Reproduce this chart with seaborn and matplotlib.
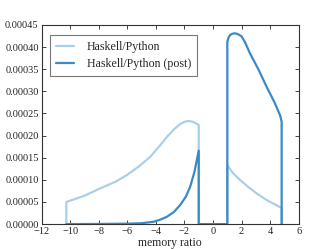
import pandas as pd
import matplotlib
matplotlib.use("Agg")
import matplotlib.pyplot as plt
import seaborn as sns
from matplotlib.ticker import FormatStrFormatter, MultipleLocator

# Haskell/Python ratio density
hp_x = [-10.26, -10.26, -9.0, -7.88, -6.8, -6.02, -5.2, -4.39, -3.7, -3.23, -2.7, -2.30,
        -2.0, -1.72, -1.4, -1.0, -1.0, 1.0, 1.0, 1.4, 1.89, 2.5, 3.05, 3.75, 4.3, 4.8, 4.8]
hp_y = [0.0, 0.00005, 0.000064, 0.000081, 0.000096, 0.000111, 0.000130, 0.000152,
        0.000178, 0.000197, 0.000215, 0.000226, 0.000231, 0.000233, 0.000231, 0.000224,
        0.0, 0.0, 0.000133, 0.000115, 0.0000995, 0.000083, 0.0000694, 0.0000543,
        0.000045, 0.000036, 0.0]

# Haskell/Python (post)
post_x = [-10.26, -8.0, -6.0, -5.0, -4.16, -3.7, -3.23, -2.75, -2.30, -1.9, -1.60,
          -1.3, -1.0, -1.0, 1.0, 1.0, 1.08, 1.19, 1.35, 1.54, 1.75, 2.0, 2.25, 2.58, 3.2,
          3.75, 4.3, 4.7, 4.8, 4.8]
post_y = [0.0, 0.0000003, 0.000001, 0.000002, 0.0000052, 0.000010, 0.0000165, 0.000027,
          0.000043, 0.000062, 0.0000844, 0.000118, 0.000166, 0.0, 0.0, 0.000412, 0.000421,
          0.000427, 0.000430, 0.000431, 0.000429, 0.000424, 0.000410, 0.000386, 0.000348,
          0.000310, 0.000275, 0.000245, 0.000231, 0.0]

labels = ["Haskell/Python", "Haskell/Python (post)"]
colors = ["#a9d0e8", "#3a8bc5"]


def main():
    df = pd.concat([
        pd.DataFrame({"memory ratio": hp_x, "density": hp_y, "series": labels[0]}),
        pd.DataFrame({"memory ratio": post_x, "density": post_y, "series": labels[1]}),
    ], ignore_index=True)

    sns.set_style("ticks", {"xtick.direction": "in", "ytick.direction": "in",
                            "axes.edgecolor": "#333333"})
    plt.rcParams["font.family"] = ["Liberation Serif", "DejaVu Serif"]
    plt.rcParams["font.size"] = 7.5

    fig = plt.figure(figsize=(3.32, 2.49), dpi=100)
    ax = fig.add_axes([0.125, 0.1, 0.775, 0.8])

    for lab, col in zip(labels, colors):
        sub = df[df["series"] == lab]
        sns.lineplot(data=sub, x="memory ratio", y="density", sort=False,
                     estimator=None, color=col, linewidth=1.6, ax=ax, label=lab)

    ax.set_xlim(-12, 6)
    ax.set_ylim(0, 0.00045)
    ax.xaxis.set_major_locator(MultipleLocator(2))
    ax.yaxis.set_major_locator(MultipleLocator(0.00005))
    ax.yaxis.set_major_formatter(FormatStrFormatter("%.5f"))
    ax.tick_params(axis="both", which="major", labelsize=7.5, length=3, width=0.6,
                   top=True, right=True, pad=2)
    for s in ax.spines.values():
        s.set_linewidth(0.8)
    ax.set_xlabel("memory ratio", fontsize=8.5, labelpad=1)
    ax.set_ylabel("density", fontsize=8.5, color="#c8c8c8", labelpad=5)

    leg = ax.legend(loc="upper left", fontsize=8.6, fancybox=False, frameon=True,
                    handlelength=1.5, handletextpad=1.1, borderpad=0.5,
                    labelspacing=0.45, bbox_to_anchor=(0.01, 0.98))
    leg.get_frame().set_edgecolor("#555555")
    leg.get_frame().set_linewidth(0.8)

    fig.savefig("out.png", dpi=100)


main()
